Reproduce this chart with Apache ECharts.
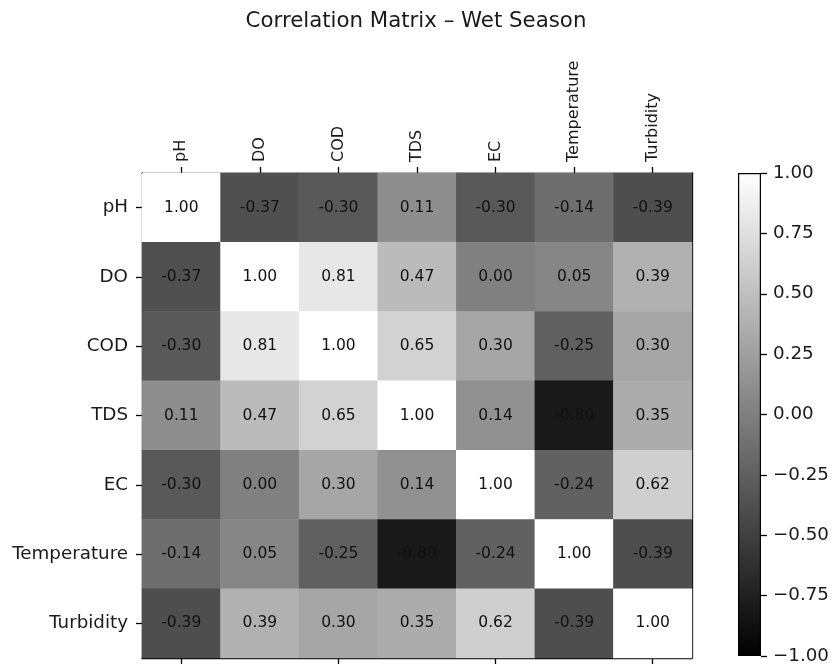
<!DOCTYPE html>
<html>
<head>
<meta charset="utf-8">
<title>Correlation Matrix – Wet Season</title>
<script src="https://cdn.jsdelivr.net/npm/echarts@6/dist/echarts.min.js"></script>
<style>
  html, body { margin: 0; padding: 0; background: #fff; }
  #chart { width: 832px; height: 665px; }
</style>
</head>
<body>
<div id="chart"></div>
<script>
// Water-quality parameters (row / column order of the matrix)
const params = ['pH', 'DO', 'COD', 'TDS', 'EC', 'Temperature', 'Turbidity'];

// Pearson correlation rows
const rowPH          = [ 1.00, -0.37, -0.30,  0.11, -0.30, -0.14, -0.39];
const rowDO          = [-0.37,  1.00,  0.81,  0.47,  0.00,  0.05,  0.39];
const rowCOD         = [-0.30,  0.81,  1.00,  0.65,  0.30, -0.25,  0.30];
const rowTDS         = [ 0.11,  0.47,  0.65,  1.00,  0.14, -0.80,  0.35];
const rowEC          = [-0.30,  0.00,  0.30,  0.14,  1.00, -0.24,  0.62];
const rowTemperature = [-0.14,  0.05, -0.25, -0.80, -0.24,  1.00, -0.39];
const rowTurbidity   = [-0.39,  0.39,  0.30,  0.35,  0.62, -0.39,  1.00];

const matrixRows = [rowPH, rowDO, rowCOD, rowTDS, rowEC, rowTemperature, rowTurbidity];

// Colour bar scale
const cbarMin = -1;
const cbarMax = 1;
const cbarStep = 0.25;

const cells = [];
matrixRows.forEach((row, r) => {
  row.forEach((v, c) => cells.push([c, r, v]));
});

const FONT = 'DejaVu Sans';
const INK = '#1a1a1a';
const TICK_LEN = 6;
const spine = { show: true, lineStyle: { color: '#000', width: 1.3 } };
const tick = { show: true, alignWithLabel: true, length: TICK_LEN, lineStyle: { color: '#000', width: 1.3 } };

const chart = echarts.init(document.getElementById('chart'), null, { renderer: 'canvas' });

chart.setOption({
  backgroundColor: '#fff',
  animation: false,
  title: {
    text: 'Correlation Matrix – Wet Season',
    left: 'center',
    top: 6,
    textStyle: { fontFamily: FONT, fontSize: 21.3, fontWeight: 'normal', color: INK }
  },
  grid: [
    { left: 142, top: 173, width: 550, height: 485 },
    { left: 738, top: 173, width: 26, height: 485 }
  ],
  xAxis: [
    {
      type: 'category', data: params, gridIndex: 0, position: 'top',
      axisLine: spine, axisTick: tick, splitLine: { show: false },
      axisLabel: { rotate: -90, margin: 11, color: INK, fontFamily: FONT, fontSize: 16 }
    },
    {
      type: 'category', data: params, gridIndex: 0, position: 'bottom',
      axisLine: spine, axisTick: tick, axisLabel: { show: false }, splitLine: { show: false }
    },
    {
      type: 'category', data: ['bar'], gridIndex: 1, show: false
    }
  ],
  yAxis: [
    {
      type: 'category', data: params, gridIndex: 0, inverse: true, position: 'left',
      axisLine: spine, axisTick: tick, splitLine: { show: false },
      axisLabel: { margin: 14, color: INK, fontFamily: FONT, fontSize: 18.3 }
    },
    {
      type: 'category', data: params, gridIndex: 0, inverse: true, position: 'right',
      axisLine: spine, axisTick: { show: false }, axisLabel: { show: false }, splitLine: { show: false }
    },
    {
      type: 'value', gridIndex: 1, min: 0, max: cbarMax - cbarMin, show: false
    },
    {
      type: 'value', gridIndex: 1, min: cbarMin, max: cbarMax, interval: cbarStep, position: 'right',
      axisLine: { show: false },
      axisTick: { show: true, length: TICK_LEN, lineStyle: { color: '#000', width: 1.3 } },
      splitLine: { show: false },
      axisLabel: {
        margin: 12, color: INK, fontFamily: FONT, fontSize: 18.3,
        formatter: v => v.toFixed(2).replace('-', '\u2212')
      }
    }
  ],
  visualMap: {
    show: false, type: 'continuous', seriesIndex: 0,
    min: cbarMin, max: cbarMax,
    inRange: { color: ['#000000', '#ffffff'] }
  },
  series: [
    {
      type: 'heatmap',
      xAxisIndex: 0, yAxisIndex: 0,
      data: cells,
      label: {
        show: true, color: '#111', fontFamily: FONT, fontSize: 15.5,
        formatter: p => p.value[2].toFixed(2)
      },
      emphasis: { disabled: true },
      z: 1
    },
    {
      type: 'bar',
      xAxisIndex: 2, yAxisIndex: 2,
      data: [cbarMax - cbarMin],
      barWidth: '100%',
      silent: true,
      itemStyle: {
        borderColor: '#000', borderWidth: 1.2,
        color: {
          type: 'linear', x: 0, y: 0, x2: 0, y2: 1,
          colorStops: [{ offset: 0, color: '#ffffff' }, { offset: 1, color: '#000000' }]
        }
      }
    }
  ]
});
</script>
</body>
</html>
